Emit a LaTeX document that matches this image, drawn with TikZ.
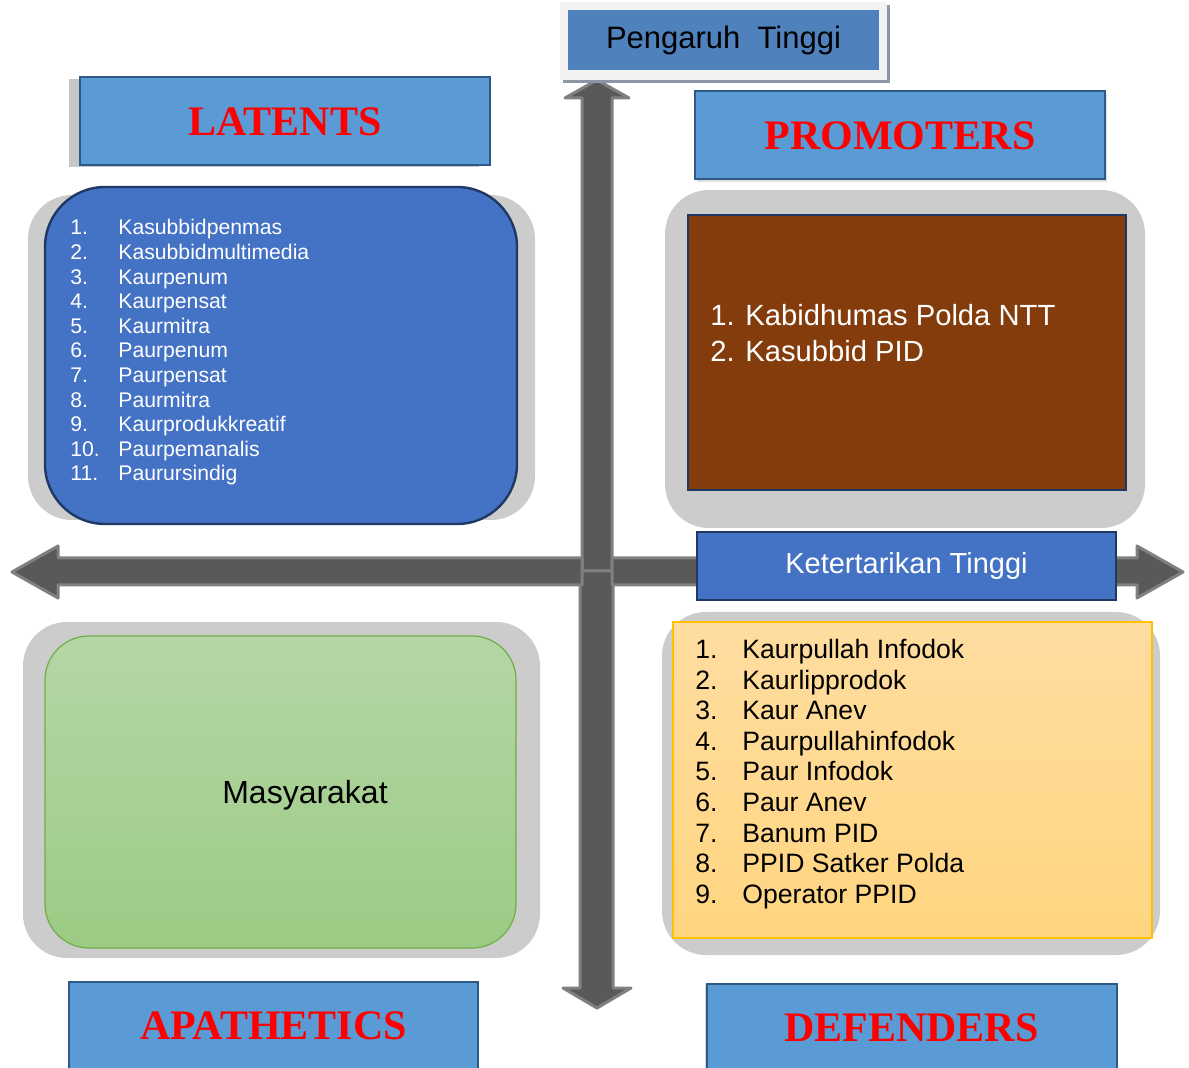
\documentclass[tikz,border=0pt]{standalone}
\usepackage{fontspec}
\setmainfont{Liberation Sans}
\newfontfamily\headfont{Liberation Serif}
\usetikzlibrary{shadows}

\definecolor{headblue}{RGB}{91,155,213}
\definecolor{headedge}{RGB}{46,90,135}
\definecolor{quadblue}{RGB}{68,114,196}
\definecolor{navy}{RGB}{31,56,100}
\definecolor{brownbox}{RGB}{132,60,12}
\definecolor{pengblue}{RGB}{79,129,189}
\definecolor{axisdark}{RGB}{89,89,89}
\definecolor{axisedge}{RGB}{128,128,128}
\definecolor{greentop}{RGB}{181,214,166}
\definecolor{greenbot}{RGB}{156,203,132}
\definecolor{greenedge}{RGB}{112,173,71}
\definecolor{yellowtop}{RGB}{255,221,160}
\definecolor{yellowbot}{RGB}{255,213,128}
\definecolor{yellowedge}{RGB}{255,192,0}
\definecolor{shadowblue}{RGB}{140,150,165}

\begin{document}
\begin{tikzpicture}[x=0.5pt, y=-0.5pt,
    headbox/.style={rectangle, draw=headedge, line width=1pt, fill=headblue, minimum width=205pt, minimum height=44pt, text=red, font=\headfont\bfseries\fontsize{21}{24}\selectfont},
    panelbg/.style={fill=black!20, rounded corners=22pt},
    quadbox/.style={rectangle, draw=navy, line width=1.2pt, fill=quadblue},
    axisarrow/.style={fill=axisdark, draw=axisedge, line width=1.5pt, line join=round},
    listtext/.style={anchor=base west, inner sep=0pt}
]
\useasboundingbox (0,0) rectangle (1189,1068);

% gray panels behind the quadrants
\fill[panelbg] (28,195) rectangle (535,520);
\fill[panelbg] (665,190) rectangle (1145,528);
\fill[panelbg] (23,622) rectangle (540,958);
\fill[panelbg] (662,612) rectangle (1160,955);

% axes
\coordinate (centre) at (597,571);
\draw[axisarrow] (582,571) -- (582,98) -- (565,98) -- (597,80) -- (629,98) -- (612,98) -- (612,571) -- cycle;
\draw[axisarrow] (580,571) -- (580,988) -- (563,988) -- (597,1008) -- (631,988) -- (613,988) -- (613,571) -- cycle;
\draw[axisarrow] (582,558) -- (58,558) -- (58,546) -- (12,572) -- (58,598) -- (58,585) -- (582,585) -- cycle;
\draw[axisarrow] (612,558) -- (1137,558) -- (1137,546) -- (1183,572) -- (1137,598) -- (1137,585) -- (612,585) -- cycle;

% Pengaruh Tinggi
\node[rectangle, fill=black!5, minimum width=163.5pt, minimum height=39pt,
      drop shadow={shadow xshift=1.5pt, shadow yshift=-1.5pt, fill=shadowblue, opacity=1}] (pengframe) at (723.5,41) {};
\node[rectangle, fill=pengblue, minimum width=155.5pt, minimum height=30pt,
      font=\fontsize{15.5}{18}\selectfont] (pengaruh) at (723.5,40) {Pengaruh\ \ Tinggi};

% quadrant headings
\node[headbox, drop shadow={shadow xshift=-5.5pt, shadow yshift=-1pt, fill=black!22, opacity=1}] (latents) at (285,121.5) {LATENTS};
\node[headbox, drop shadow={shadow xshift=1pt, shadow yshift=-1.5pt, fill=black!12, opacity=1}] (promoters) at (900,135.5) {PROMOTERS};
\node[headbox, minimum width=204.5pt] (apathetics) at (273.5,1025.5) {APATHETICS};
\node[headbox, drop shadow={shadow xshift=-1pt, shadow yshift=0pt, fill=black!15, opacity=1}] (defenders) at (911.5,1028) {DEFENDERS};

% Latents
\node[quadbox, rounded corners=30pt, minimum width=236pt, minimum height=168.5pt] (latbox) at (281,355.5) {};
\node[listtext, text=white, font=\fontsize{10.6}{12.3}\selectfont] (latlist) at (70,235) {%
\begin{tabular}[t]{@{}p{24pt}@{}l@{}}
1. & Kasubbidpenmas\\
2. & Kasubbidmultimedia\\
3. & Kaurpenum\\
4. & Kaurpensat\\
5. & Kaurmitra\\
6. & Paurpenum\\
7. & Paurpensat\\
8. & Paurmitra\\
9. & Kaurprodukkreatif\\
10. & Paurpemanalis\\
11. & Paurursindig
\end{tabular}};

% Promoters
\node[quadbox, fill=brownbox, minimum width=219pt, minimum height=137.5pt] (probox) at (907,352.5) {};
\node[listtext, text=white, font=\fontsize{14.6}{18}\selectfont] (prolist) at (710,326) {%
\begin{tabular}[t]{@{}p{17.5pt}@{}l@{}}
1. & Kabidhumas Polda NTT\\
2. & Kasubbid PID
\end{tabular}};

% Ketertarikan Tinggi
\node[quadbox, minimum width=209.5pt, minimum height=34pt, text=white,
      font=\fontsize{14.5}{17}\selectfont] (ketertarikan) at (906.5,566) {Ketertarikan Tinggi};

% Apathetics
\node[rectangle, rounded corners=22pt, draw=greenedge, line width=0.6pt, top color=greentop, bottom color=greenbot,
      minimum width=235.5pt, minimum height=156pt] (greenbox) at (280.5,792) {};
\node[font=\fontsize{16}{19}\selectfont] (masyarakat) at (305,795) {Masyarakat};

% Defenders
\node[rectangle, draw=yellowedge, line width=0.6pt, top color=yellowtop, bottom color=yellowbot,
      minimum width=239.5pt, minimum height=158pt] (defbox) at (912.5,780) {};
\node[listtext, font=\fontsize{13.3}{15.3}\selectfont] (deflist) at (695,658.5) {%
\begin{tabular}[t]{@{}p{23.5pt}@{}l@{}}
1. & Kaurpullah Infodok\\
2. & Kaurlipprodok\\
3. & Kaur Anev\\
4. & Paurpullahinfodok\\
5. & Paur Infodok\\
6. & Paur Anev\\
7. & Banum PID\\
8. & PPID Satker Polda\\
9. & Operator PPID
\end{tabular}};
\end{tikzpicture}
\end{document}
